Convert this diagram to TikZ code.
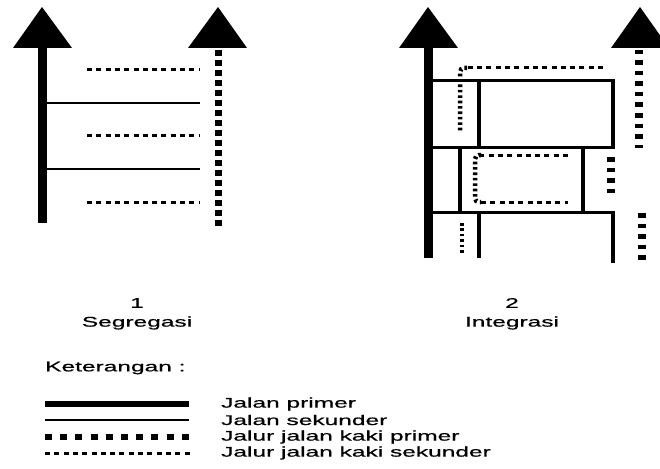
\documentclass[tikz,border=0pt]{standalone}
\usepackage{fontspec}
\setmainfont{Liberation Sans}
\usepackage{graphicx}
\newcommand{\sx}[1]{\scalebox{1.75}[1]{\addfontfeatures{FakeBold=0.5}#1}}
\begin{document}
\begin{tikzpicture}[x=1pt,y=-1pt,
  primroad/.style={line width=9pt},
  secroad/.style={line width=3pt},
  secroadv/.style={line width=3.8pt},
  primwalk/.style={line width=7pt, dash pattern=on 6pt off 4pt},
  primwalkb/.style={line width=7.5pt, dash pattern=on 4.5pt off 6pt},
  hdot/.style={line width=3pt, dash pattern=on 5pt off 4.3pt},
  vdot/.style={line width=4.5pt, dash pattern=on 2.6pt off 2.8pt},
  head/.style={fill=black},
  lbl/.style={font=\fontsize{14pt}{16pt}\selectfont, inner sep=0pt, text=black}]
\useasboundingbox (0,0) rectangle (660,468);
% ---------- 1 Segregasi ----------
\fill[head] (42,7) -- (72,48) -- (13,48) -- cycle;
\draw[primroad] (42,47) -- (42,223);
\fill[head] (218,7) -- (247,48) -- (188,48) -- cycle;
\draw[primwalk] (218,50) -- (218,228);
\draw[line width=2.6pt] (42,103) -- (200,103);
\draw[line width=2.6pt] (42,169) -- (200,169);
\draw[hdot] (87,70) -- (200,70);
\draw[hdot] (87,135) -- (200,135);
\draw[hdot] (87,202) -- (200,202);
% ---------- 2 Integrasi ----------
\fill[head] (428,7) -- (458,48) -- (399,48) -- cycle;
\draw[primroad] (428,47) -- (428,258);
\fill[head] (640,7) -- (669,48) -- (611,48) -- cycle;
\draw[primwalkb] (639,50) -- (639,148);
\draw[primwalkb] (611,157) -- (611,199);
\draw[primwalkb] (642,213) -- (642,264);
% secondary roads
\draw[secroad] (432,81) -- (613,81);
\draw[secroadv] (613,79.5) -- (613,147);
\draw[secroad] (432,147) -- (614.9,147);
\draw[secroad] (432,212) -- (613,212);
\draw[secroadv] (613,210.5) -- (613,263);
\draw[secroadv] (479,81) -- (479,147);
\draw[secroadv] (460,147) -- (460,212);
\draw[secroadv] (583,147) -- (583,212);
\draw[secroadv] (479,212) -- (479,258);
% secondary walkways
\draw[hdot] (603,68) -- (467,68);
\draw[vdot, rounded corners=4pt] (467,68) -- (460,68) -- (460,131);
\draw[hdot] (568,155) -- (481,155);
\draw[vdot, rounded corners=4pt] (481,155) -- (475,155) -- (475,202) -- (481,202);
\draw[hdot] (481,202) -- (568,202);
\draw[vdot] (462,223) -- (462,254);
% ---------- labels ----------
\node[lbl] (n1) at (137,303) {\sx{1}};
\node[lbl] (seg) at (137,323) {\sx{Segregasi}};
\node[lbl] (n2) at (512,303) {\sx{2}};
\node[lbl] (int) at (512,323) {\sx{Integrasi}};
\node[lbl, anchor=west] (ket) at (45,368) {\sx{Keterangan :}};
% ---------- legend ----------
\draw[line width=6pt] (45,404) -- (189,404);
\draw[line width=2.6pt] (45,420) -- (189,420);
\draw[line width=6pt, dash pattern=on 7pt off 8.2pt] (45,437) -- (190,437);
\draw[hdot] (45,453) -- (190,453);
\node[lbl, anchor=west] (l1) at (221,404) {\sx{Jalan primer}};
\node[lbl, anchor=west] (l2) at (221,420) {\sx{Jalan sekunder}};
\node[lbl, anchor=west] (l3) at (221,437) {\sx{Jalur jalan kaki primer}};
\node[lbl, anchor=west] (l4) at (221,453) {\sx{Jalur jalan kaki sekunder}};
\end{tikzpicture}
\end{document}
